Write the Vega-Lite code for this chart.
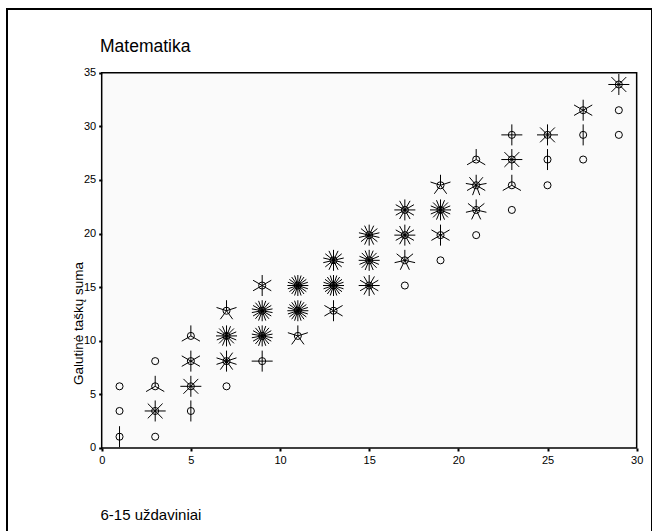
{
  "$schema": "https://vega.github.io/schema/vega-lite/v6.json",
  "autosize": "none",
  "width": 645,
  "height": 530,
  "padding": {"left": 7, "top": 9, "right": 0, "bottom": 0},
  "background": "white",
  "config": {
    "font": "Liberation Sans",
    "view": {"stroke": "black", "strokeWidth": 2}
  },
  "title": {
    "text": "Matematika",
    "anchor": "start",
    "frame": "group",
    "fontSize": 17.5,
    "fontWeight": "normal",
    "color": "black",
    "baseline": "middle",
    "offset": 0,
    "dx": 93,
    "dy": 55
  },
  "datasets": {
    "pts": [
      {"x": 1, "y": 1.05, "n": 2}, {"x": 1, "y": 3.45, "n": 1}, {"x": 1, "y": 5.75, "n": 1},
      {"x": 3, "y": 1.05, "n": 1}, {"x": 3, "y": 3.45, "n": 8}, {"x": 3, "y": 5.75, "n": 3}, {"x": 3, "y": 8.1, "n": 1},
      {"x": 5, "y": 3.45, "n": 2}, {"x": 5, "y": 5.75, "n": 8}, {"x": 5, "y": 8.1, "n": 6}, {"x": 5, "y": 10.45, "n": 3},
      {"x": 7, "y": 5.75, "n": 1}, {"x": 7, "y": 8.1, "n": 10}, {"x": 7, "y": 10.45, "n": 16}, {"x": 7, "y": 12.8, "n": 5},
      {"x": 9, "y": 8.1, "n": 4}, {"x": 9, "y": 10.45, "n": 18}, {"x": 9, "y": 12.8, "n": 18}, {"x": 9, "y": 15.15, "n": 6},
      {"x": 11, "y": 10.45, "n": 5}, {"x": 11, "y": 12.8, "n": 20}, {"x": 11, "y": 15.15, "n": 20},
      {"x": 13, "y": 12.8, "n": 6}, {"x": 13, "y": 15.15, "n": 20}, {"x": 13, "y": 17.5, "n": 14},
      {"x": 15, "y": 15.15, "n": 12}, {"x": 15, "y": 17.5, "n": 16}, {"x": 15, "y": 19.85, "n": 14},
      {"x": 17, "y": 15.15, "n": 1}, {"x": 17, "y": 17.5, "n": 7}, {"x": 17, "y": 19.85, "n": 12}, {"x": 17, "y": 22.2, "n": 12},
      {"x": 19, "y": 17.5, "n": 1}, {"x": 19, "y": 19.85, "n": 6}, {"x": 19, "y": 22.2, "n": 16}, {"x": 19, "y": 24.5, "n": 5},
      {"x": 21, "y": 19.85, "n": 1}, {"x": 21, "y": 22.2, "n": 7}, {"x": 21, "y": 24.5, "n": 9}, {"x": 21, "y": 26.9, "n": 3},
      {"x": 23, "y": 22.2, "n": 1}, {"x": 23, "y": 24.5, "n": 3}, {"x": 23, "y": 26.9, "n": 8}, {"x": 23, "y": 29.2, "n": 4},
      {"x": 25, "y": 24.5, "n": 1}, {"x": 25, "y": 26.9, "n": 2}, {"x": 25, "y": 29.2, "n": 8},
      {"x": 27, "y": 26.9, "n": 1}, {"x": 27, "y": 29.2, "n": 2}, {"x": 27, "y": 31.5, "n": 6},
      {"x": 29, "y": 29.2, "n": 1}, {"x": 29, "y": 31.5, "n": 1}, {"x": 29, "y": 33.9, "n": 8}
    ]
  },
  "data": {"name": "pts"},
  "encoding": {
    "x": {
      "field": "x", "type": "quantitative",
      "scale": {"domain": [-5.31, 30.86], "nice": false, "zero": false},
      "axis": {
        "values": [0, 5, 10, 15, 20, 25, 30],
        "offset": -91,
        "domain": false,
        "grid": false,
        "tickSize": 3, "tickWidth": 2, "tickColor": "black",
        "labelFontSize": 11, "labelColor": "black", "labelPadding": 3,
        "title": "6-15 uždaviniai",
        "titleFontSize": 15, "titleFontWeight": "normal", "titleColor": "black",
        "titleAnchor": "start", "titleAlign": "left", "titleBaseline": "middle",
        "titleX": 93, "titleY": 66
      }
    },
    "y": {
      "field": "y", "type": "quantitative",
      "scale": {"domain": [-8.49, 40.94], "nice": false, "zero": false},
      "axis": {
        "values": [0, 5, 10, 15, 20, 25, 30, 35],
        "offset": -94.7,
        "domain": false,
        "grid": false,
        "tickSize": 3, "tickWidth": 2, "tickColor": "black",
        "labelFontSize": 11, "labelColor": "black", "labelPadding": 3,
        "title": "Galutinė taškų suma",
        "titleFontSize": 13.5, "titleFontWeight": "normal", "titleColor": "black",
        "titleAngle": -90, "titleAlign": "center", "titleBaseline": "bottom",
        "titleX": -16, "titleY": 314
      }
    }
  },
  "layer": [
    {
      "mark": {"type": "point", "shape": "circle", "filled": false, "stroke": "black", "strokeWidth": 1, "size": 50, "opacity": 1}
    },
    {
      "transform": [{"filter": "datum.n > 1"}],
      "mark": {"type": "point", "filled": false, "stroke": "black", "strokeWidth": 1, "size": 441, "opacity": 1},
      "encoding": {
        "shape": {
          "field": "n", "type": "nominal", "legend": null,
          "scale": {
            "domain": [2, 3, 4, 5, 6, 7, 8, 9, 10, 12, 14, 16, 18, 20],
            "range": [
              "M0,-1L0,1",
              "M0,0L0,-1M0,0L0.866,0.5M0,0L-0.866,0.5",
              "M0,-1L0,1M-1,0L1,0",
              "M0,0L0,-1M0,0L0.951,-0.309M0,0L0.588,0.809M0,0L-0.588,0.809M0,0L-0.951,-0.309",
              "M0,-1L0,1M0.866,-0.5L-0.866,0.5M0.866,0.5L-0.866,-0.5",
              "M0,0L0,-1M0,0L0.782,-0.623M0,0L0.975,0.223M0,0L0.434,0.901M0,0L-0.434,0.901M0,0L-0.975,0.223M0,0L-0.782,-0.623",
              "M0,-1L0,1M-1,0L1,0M0.707,-0.707L-0.707,0.707M0.707,0.707L-0.707,-0.707",
              "M0,0L0,-1M0,0L0.643,-0.766M0,0L0.985,-0.174M0,0L0.866,0.5M0,0L0.342,0.94M0,0L-0.342,0.94M0,0L-0.866,0.5M0,0L-0.985,-0.174M0,0L-0.643,-0.766",
              "M0,-1L0,1M0.588,-0.809L-0.588,0.809M0.951,-0.309L-0.951,0.309M0.951,0.309L-0.951,-0.309M0.588,0.809L-0.588,-0.809",
              "M0,-1L0,1M0.5,-0.866L-0.5,0.866M0.866,-0.5L-0.866,0.5M1,0L-1,0M0.866,0.5L-0.866,-0.5M0.5,0.866L-0.5,-0.866",
              "M0,-1L0,1M0.434,-0.901L-0.434,0.901M0.782,-0.623L-0.782,0.623M0.975,-0.223L-0.975,0.223M0.975,0.223L-0.975,-0.223M0.782,0.623L-0.782,-0.623M0.434,0.901L-0.434,-0.901",
              "M0,-1L0,1M0.383,-0.924L-0.383,0.924M0.707,-0.707L-0.707,0.707M0.924,-0.383L-0.924,0.383M1,0L-1,0M0.924,0.383L-0.924,-0.383M0.707,0.707L-0.707,-0.707M0.383,0.924L-0.383,-0.924",
              "M0,-1L0,1M0.342,-0.94L-0.342,0.94M0.643,-0.766L-0.643,0.766M0.866,-0.5L-0.866,0.5M0.985,-0.174L-0.985,0.174M0.985,0.174L-0.985,-0.174M0.866,0.5L-0.866,-0.5M0.643,0.766L-0.643,-0.766M0.342,0.94L-0.342,-0.94",
              "M0,-1L0,1M0.309,-0.951L-0.309,0.951M0.588,-0.809L-0.588,0.809M0.951,-0.309L-0.951,0.309M0.809,-0.588L-0.809,0.588M1,0L-1,0M0.951,0.309L-0.951,-0.309M0.809,0.588L-0.809,-0.588M0.588,0.809L-0.588,-0.809M0.309,0.951L-0.309,-0.951"
            ]
          }
        }
      }
    },
    {
      "data": {"values": [{"xa": 0, "xb": 30, "ya": 0, "yb": 35}]},
      "mark": {"type": "rect", "fill": "black", "fillOpacity": 0.02, "stroke": "black", "strokeWidth": 1.5},
      "encoding": {
        "x": {"field": "xa", "type": "quantitative"},
        "x2": {"field": "xb"},
        "y": {"field": "ya", "type": "quantitative"},
        "y2": {"field": "yb"}
      }
    }
  ]
}
